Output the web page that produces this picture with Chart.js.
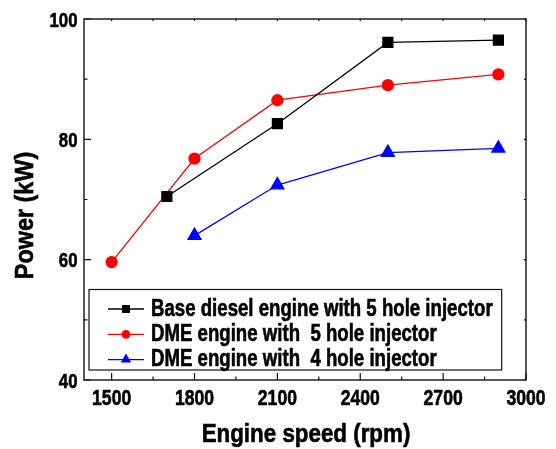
<!DOCTYPE html>
<html>
<head>
<meta charset="utf-8">
<script src="https://cdn.jsdelivr.net/npm/chart.js@4/dist/chart.umd.min.js"></script>
<style>
  html, body { margin: 0; padding: 0; background: #fff; }
</style>
</head>
<body>
<canvas id="powerChart" width="556" height="449"></canvas>
<script>
// data
const baseSpeeds = [1700, 2100, 2500, 2900];
const basePower = [70.5, 82.6, 96.1, 96.5];
const dme5Speeds = [1500, 1800, 2100, 2500, 2900];
const dme5Power = [59.6, 76.8, 86.5, 89.0, 90.8];
const dme4Speeds = [1800, 2100, 2500, 2900];
const dme4Power = [64.0, 72.4, 77.8, 78.5];

const xTickLabels = [1500, 1800, 2100, 2400, 2700, 3000];
const xMinorTicks = [1650, 1950, 2250, 2550, 2850];
const yTickLabels = [40, 60, 80, 100];
const yMinorTicks = [50, 70, 90];

// no Arial Narrow here, so squeeze Liberation Sans by hand
const FONT = "'Liberation Sans', Arial, sans-serif";

function toPoints(xs, ys) {
  return xs.map((v, i) => ({ x: v, y: ys[i] }));
}

function squeezedText(ctx, text, x, y, size, sx, align, rot) {
  ctx.save();
  ctx.translate(x, y);
  if (rot) ctx.rotate(rot);
  ctx.scale(sx, 1);
  ctx.font = 'bold ' + size + 'px ' + FONT;
  ctx.fillStyle = '#000';
  ctx.strokeStyle = '#000';
  ctx.lineWidth = 0.6;
  ctx.textAlign = align;
  ctx.textBaseline = 'alphabetic';
  ctx.fillText(text, 0, 0);
  ctx.strokeText(text, 0, 0);
  ctx.restore();
}

// box, inward ticks, tick labels and axis titles
const frame = {
  id: 'frame',
  beforeDatasetsDraw(chart) {
    const { ctx, chartArea: a, scales: { x, y } } = chart;
    ctx.save();
    ctx.strokeStyle = '#111';
    ctx.lineWidth = 1.4;
    ctx.strokeRect(a.left, a.top, a.width, a.height);
    ctx.lineWidth = 1.2;
    ctx.beginPath();
    x.ticks.forEach(t => {
      const px = x.getPixelForValue(t.value);
      const len = xTickLabels.includes(t.value) ? 7 : 3.5;
      ctx.moveTo(px, a.bottom); ctx.lineTo(px, a.bottom - len);
      ctx.moveTo(px, a.top); ctx.lineTo(px, a.top + 2);
    });
    y.ticks.forEach(t => {
      const py = y.getPixelForValue(t.value);
      const len = yTickLabels.includes(t.value) ? 7 : 3.5;
      ctx.moveTo(a.left, py); ctx.lineTo(a.left + len, py);
      ctx.moveTo(a.right, py); ctx.lineTo(a.right - 2, py);
    });
    ctx.stroke();
    ctx.restore();

    xTickLabels.forEach(v => {
      squeezedText(ctx, String(v), x.getPixelForValue(v), a.bottom + 25, 22, 0.8, 'center');
    });
    yTickLabels.forEach(v => {
      squeezedText(ctx, String(v), a.left - 6.5, y.getPixelForValue(v) + 7.5, 21, 0.8, 'right');
    });
    squeezedText(ctx, 'Engine speed (rpm)', (a.left + a.right) / 2 + 1, a.bottom + 61.7, 26, 0.86, 'center');
    // y title sits a bit below the middle in the original
    squeezedText(ctx, 'Power (kW)', 32.5, (a.top + a.bottom) / 2 + 16, 26, 0.9, 'center', -Math.PI / 2);
  }
};

const insideLegend = {
  id: 'insideLegend',
  afterDatasetsDraw(chart) {
    const { ctx, chartArea: a } = chart;
    const left = a.left + 5, top = a.bottom - 90.5;
    const right = a.right - 24.3, bottom = a.bottom - 10;
    ctx.save();
    ctx.fillStyle = '#fff';
    ctx.fillRect(left, top, right - left, bottom - top);
    ctx.strokeStyle = '#111';
    ctx.lineWidth = 1.2;
    ctx.strokeRect(left, top, right - left, bottom - top);
    chart.data.datasets.forEach((ds, i) => {
      const base = top + 26 + i * 25.3;
      const cy = base - 6.5;
      ctx.strokeStyle = ds.borderColor;
      ctx.lineWidth = ds.borderWidth;
      ctx.beginPath();
      ctx.moveTo(left + 19, cy);
      ctx.lineTo(left + 55, cy);
      ctx.stroke();
      ctx.fillStyle = ds.pointBackgroundColor;
      Chart.helpers.drawPoint(ctx, { pointStyle: ds.pointStyle, radius: ds.pointRadius * 0.8, borderWidth: 0 }, left + 37, cy);
      squeezedText(ctx, ds.label, left + 62, base, 23, 0.81, 'left');
    });
    ctx.restore();
  }
};

const ctx = document.getElementById('powerChart').getContext('2d');

const powerChart = new Chart(ctx, {
  type: 'line',
  data: {
    datasets: [
      {
        label: 'Base diesel engine with 5 hole injector',
        data: toPoints(baseSpeeds, basePower),
        borderColor: '#000000',
        backgroundColor: '#000000',
        pointBackgroundColor: '#000000',
        pointBorderColor: '#000000',
        pointStyle: 'rect',
        pointRadius: 7,
        borderWidth: 1.3
      },
      {
        label: 'DME engine with  5 hole injector',
        data: toPoints(dme5Speeds, dme5Power),
        borderColor: '#ff0000',
        backgroundColor: '#ff0000',
        pointBackgroundColor: '#ff0000',
        pointBorderColor: '#ff0000',
        pointStyle: 'circle',
        pointRadius: 5.5,
        borderWidth: 1.3
      },
      {
        label: 'DME engine with  4 hole injector',
        data: toPoints(dme4Speeds, dme4Power),
        borderColor: '#0000ff',
        backgroundColor: '#0000ff',
        pointBackgroundColor: '#0000ff',
        pointBorderColor: '#0000ff',
        pointStyle: 'triangle',
        pointRadius: 7.5,
        borderWidth: 1.3
      }
    ]
  },
  options: {
    responsive: false,
    animation: false,
    layout: { padding: { top: 19, right: 30, bottom: 0, left: 0 } },
    plugins: {
      legend: { display: false },
      tooltip: { enabled: false }
    },
    scales: {
      x: {
        type: 'linear',
        min: 1400,
        max: 3000,
        afterBuildTicks: s => {
          s.ticks = xTickLabels.concat(xMinorTicks).sort((p, q) => p - q).map(v => ({ value: v }));
        },
        afterFit: s => { s.height = 69; },
        grid: { display: false, drawTicks: false },
        border: { display: false },
        ticks: { display: false }
      },
      y: {
        min: 40,
        max: 100,
        afterBuildTicks: s => {
          s.ticks = yTickLabels.concat(yMinorTicks).sort((p, q) => p - q).map(v => ({ value: v }));
        },
        afterFit: s => { s.width = 84; },
        grid: { display: false, drawTicks: false },
        border: { display: false },
        ticks: { display: false }
      }
    }
  },
  plugins: [frame, insideLegend]
});
</script>
</body>
</html>
